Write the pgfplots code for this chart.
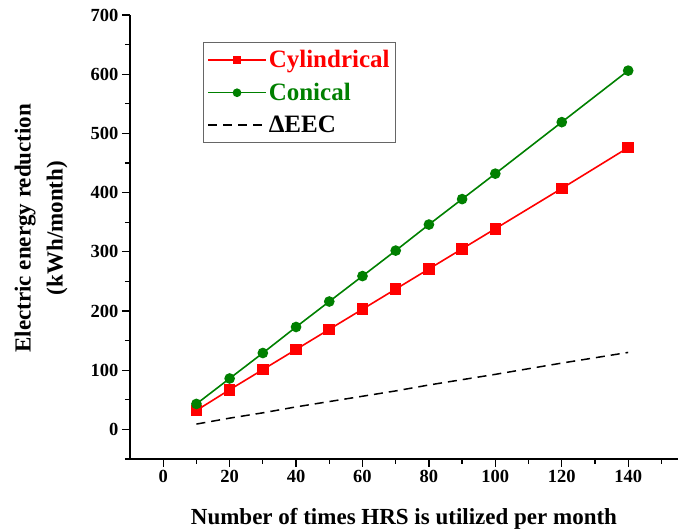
\documentclass[border=0pt]{standalone}
\usepackage{fontspec}
\setmainfont{Liberation Serif}
\usepackage{pgfplots}
\pgfplotsset{compat=1.18}

\definecolor{cyl}{RGB}{255,0,0}
\definecolor{con}{RGB}{0,128,0}

\begin{document}
\begin{tikzpicture}
\begin{axis}[
  name=ax,
  width=548pt, height=444pt,
  scale only axis,
  xmin=-10, xmax=155,
  ymin=-50, ymax=700,
  axis lines*=left,
  axis line style={line width=1.6pt},
  tick align=outside,
  major tick length=8pt,
  minor tick length=5pt,
  tick style={line width=1.3pt, black},
  xtick={0,20,...,140},
  minor xtick={10,30,...,150},
  ytick={0,100,...,700},
  minor ytick={-50,50,...,650},
  ticklabel style={font=\fontsize{18.5}{20}\selectfont\bfseries},
  /pgf/number format/assume math mode=true,
  xlabel={Number of times HRS is utilized per month},
  ylabel={Electric energy reduction\\(kWh/month)},
  xlabel style={font=\fontsize{23}{26}\selectfont\bfseries,
    at={(axis description cs:0.5,0)}, anchor=base, yshift=-66pt, inner sep=0pt},
  ylabel style={font=\fontsize{23}{32}\selectfont\bfseries, align=center,
    at={(axis description cs:-0.1624,0.52)}, anchor=center, rotate=0},
  legend style={at={(0.133,0.939)}, anchor=north west, draw=black!60, line width=0.8pt,
    font=\fontsize{25}{28}\selectfont\bfseries, row sep=10pt,
    inner xsep=4pt, inner ysep=6pt},
  legend cell align=left,
  legend image code/.code={\draw[#1, line width=1.5pt] (0pt,0pt) -- (58pt,0pt); \draw[#1, only marks, mark size=3.5pt] plot coordinates {(29pt,0pt)};},
]
\addplot[color=cyl, line width=1.6pt, mark=square*, mark size=5pt, mark options={solid}]
  coordinates {(10,32) (20,67) (30,101) (40,135) (50,169) (60,203) (70,237) (80,271) (90,305) (100,339) (120,407) (140,476)};
\addlegendentry{\textcolor{cyl}{Cylindrical}}
\addplot[color=con, line width=1.6pt, mark=*, mark size=4.5pt, mark options={solid}]
  coordinates {(10,43) (20,86) (30,129) (40,173) (50,216) (60,259) (70,302) (80,346) (90,389) (100,432) (120,519) (140,606)};
\addlegendentry{\textcolor{con}{Conical}}
\addplot[color=black, line width=1.5pt, dash pattern=on 9pt off 6pt, mark=none]
  coordinates {(10,9) (20,19) (30,28) (40,38) (50,47) (60,56) (70,65) (80,75) (90,84) (100,93) (120,112) (140,130)};
\addlegendentry{ΔEEC}
\end{axis}
\pgfresetboundingbox
\path ([xshift=-130pt,yshift=-72pt]ax.south west) rectangle ([xshift=8pt,yshift=15pt]ax.north east);
\end{tikzpicture}
\end{document}
